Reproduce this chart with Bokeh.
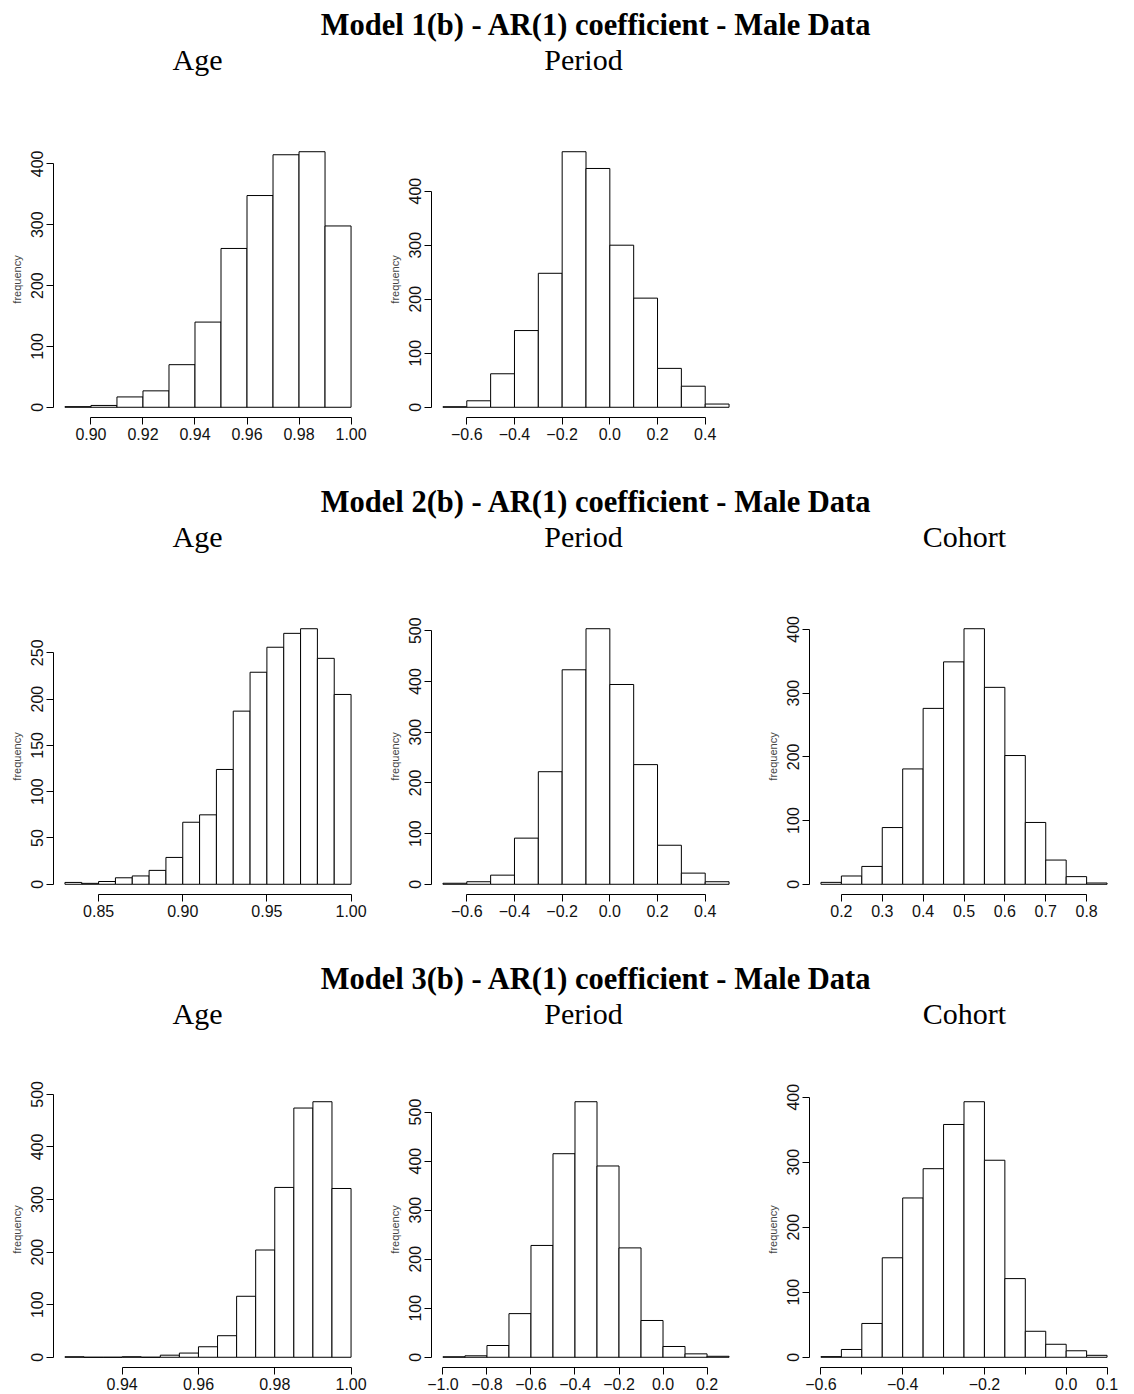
import numpy as np
from bokeh.plotting import figure
from bokeh.models import Range1d, FixedTicker, Label
from bokeh.layouts import column, row
from bokeh.embed import file_html
from bokeh.resources import INLINE

# ---------------- data ----------------
row_titles = ["Model 1(b) - AR(1) coefficient - Male Data",
              "Model 2(b) - AR(1) coefficient - Male Data",
              "Model 3(b) - AR(1) coefficient - Male Data"]
row_subtitles = [["Age", "Period"], ["Age", "Period", "Cohort"], ["Age", "Period", "Cohort"]]

# Model 1 - Age
m1_age_bin_start = 0.89
m1_age_bin_width = 0.01
m1_age_counts = [1, 3, 17, 27, 70, 140, 261, 348, 415, 420, 298]
m1_age_xticks = [0.90, 0.92, 0.94, 0.96, 0.98, 1.00]
m1_age_xlabels = ["0.90", "0.92", "0.94", "0.96", "0.98", "1.00"]
m1_age_yticks = [0, 100, 200, 300, 400]

# Model 1 - Period
m1_per_bin_start = -0.7
m1_per_bin_width = 0.1
m1_per_counts = [1, 12, 62, 142, 248, 473, 442, 300, 202, 72, 39, 6]
m1_per_xticks = [-0.6, -0.4, -0.2, 0.0, 0.2, 0.4]
m1_per_xlabels = ["\u22120.6", "\u22120.4", "\u22120.2", "0.0", "0.2", "0.4"]
m1_per_yticks = [0, 100, 200, 300, 400]

# Model 2 - Age
m2_age_bin_start = 0.83
m2_age_bin_width = 0.01
m2_age_counts = [2, 1, 3, 7, 9, 15, 29, 67, 75, 124, 187, 229, 256, 271, 276, 244, 205]
m2_age_xticks = [0.85, 0.90, 0.95, 1.00]
m2_age_xlabels = ["0.85", "0.90", "0.95", "1.00"]
m2_age_yticks = [0, 50, 100, 150, 200, 250]

# Model 2 - Period
m2_per_bin_start = -0.7
m2_per_bin_width = 0.1
m2_per_counts = [2, 5, 18, 91, 222, 423, 504, 394, 236, 77, 22, 5]
m2_per_xticks = [-0.6, -0.4, -0.2, 0.0, 0.2, 0.4]
m2_per_xlabels = ["\u22120.6", "\u22120.4", "\u22120.2", "0.0", "0.2", "0.4"]
m2_per_yticks = [0, 100, 200, 300, 400, 500]

# Model 2 - Cohort
m2_coh_bin_start = 0.15
m2_coh_bin_width = 0.05
m2_coh_counts = [3, 13, 28, 89, 181, 276, 349, 401, 309, 202, 97, 38, 12, 2]
m2_coh_xticks = [0.2, 0.3, 0.4, 0.5, 0.6, 0.7, 0.8]
m2_coh_xlabels = ["0.2", "0.3", "0.4", "0.5", "0.6", "0.7", "0.8"]
m2_coh_yticks = [0, 100, 200, 300, 400]

# Model 3 - Age
m3_age_bin_start = 0.925
m3_age_bin_width = 0.005
m3_age_counts = [1, 0, 0, 1, 0, 4, 8, 20, 41, 116, 204, 323, 474, 486, 321]
m3_age_xticks = [0.94, 0.96, 0.98, 1.00]
m3_age_xlabels = ["0.94", "0.96", "0.98", "1.00"]
m3_age_yticks = [0, 100, 200, 300, 400, 500]

# Model 3 - Period
m3_per_bin_start = -1.0
m3_per_bin_width = 0.1
m3_per_counts = [1, 3, 24, 89, 228, 415, 521, 390, 223, 75, 22, 7, 2]
m3_per_xticks = [-1.0, -0.8, -0.6, -0.4, -0.2, 0.0, 0.2]
m3_per_xlabels = ["\u22121.0", "\u22120.8", "\u22120.6", "\u22120.4", "\u22120.2", "0.0", "0.2"]
m3_per_yticks = [0, 100, 200, 300, 400, 500]

# Model 3 - Cohort
m3_coh_bin_start = -0.6
m3_coh_bin_width = 0.05
m3_coh_counts = [1, 12, 52, 153, 245, 290, 358, 393, 303, 121, 40, 20, 10, 3]
m3_coh_xticks = [-0.6, -0.5, -0.4, -0.3, -0.2, -0.1, 0.0, 0.1]
m3_coh_xlabels = ["\u22120.6", "", "\u22120.4", "", "\u22120.2", "", "0.0", "0.1"]
m3_coh_yticks = [0, 100, 200, 300, 400]

# ---------------- layout constants ----------------
PAGE_W = 1134
COL_W = 378
HEADER_H = 110
FRAME_W = 309
FRAME_H = 276
BORDER_L = 53
BORDER_R = COL_W - BORDER_L - FRAME_W
BORDER_T = 31
SERIF = "Liberation Serif"
SANS = "Liberation Sans"
SUB_X = [197, 583, 964]


def header(title, subs, height=HEADER_H):
    p = figure(width=PAGE_W, height=height, output_backend="svg", toolbar_location=None,
               x_range=Range1d(0, PAGE_W), y_range=Range1d(height, 0),
               min_border=0, outline_line_color=None)
    p.axis.visible = False
    p.grid.visible = False
    p.add_layout(Label(x=596, y=24, text=title, text_align="center",
                       text_baseline="alphabetic", text_font=SERIF,
                       text_font_size="30.5px", text_font_style="bold", text_color="black"))
    for i, s in enumerate(subs):
        p.add_layout(Label(x=SUB_X[i], y=59, text=s, text_align="center",
                           text_baseline="alphabetic", text_font=SERIF,
                           text_font_size="30px", text_color="black"))
    return p


def panel(bin_start, bin_width, counts, xticks, xlabels, yticks, height, bottom):
    n = len(counts)
    edges = np.round(bin_start + bin_width * np.arange(n + 1), 6)
    lo, hi = edges[0], edges[-1]
    ymax = max(counts)
    p = figure(width=COL_W, height=height, output_backend="svg", toolbar_location=None,
               x_range=Range1d(lo - 0.04 * (hi - lo), hi + 0.04 * (hi - lo)),
               y_range=Range1d(-0.04 * ymax, 1.04 * ymax),
               min_border_left=BORDER_L, min_border_right=BORDER_R,
               min_border_top=BORDER_T, min_border_bottom=bottom,
               outline_line_color=None, background_fill_color="white")
    p.grid.visible = False
    p.quad(left=edges[:-1], right=edges[1:], bottom=0, top=counts,
           fill_color="white", line_color="black", line_width=1)

    xa = p.xaxis[0]
    xa.ticker = FixedTicker(ticks=xticks)
    xa.major_label_overrides = {t: l for t, l in zip(xticks, xlabels)}
    xa.bounds = (xticks[0], xticks[-1])
    ya = p.yaxis[0]
    ya.ticker = FixedTicker(ticks=yticks)
    ya.bounds = (yticks[0], yticks[-1])
    ya.major_label_orientation = "vertical"
    ya.axis_label = "frequency"
    ya.axis_label_text_font = SANS
    ya.axis_label_text_font_size = "11px"
    ya.axis_label_text_font_style = "normal"
    ya.axis_label_text_color = "#444444"
    ya.axis_label_standoff = 6
    for ax in (xa, ya):
        ax.axis_line_color = "black"
        ax.axis_line_width = 1
        ax.major_tick_line_color = "black"
        ax.major_tick_out = 7
        ax.major_tick_in = 0
        ax.minor_tick_line_color = None
        ax.major_label_text_font = SANS
        ax.major_label_text_color = "#111111"
        ax.major_label_standoff = 3
    xa.major_label_text_font_size = "16px"
    ya.major_label_text_font_size = "16px"
    return p


ROW_H = 367
bot12 = ROW_H - BORDER_T - FRAME_H
H3 = 1394 - 2 * (HEADER_H + ROW_H) - 106
bot3 = H3 - BORDER_T - FRAME_H

r1 = row(
    panel(m1_age_bin_start, m1_age_bin_width, m1_age_counts, m1_age_xticks, m1_age_xlabels, m1_age_yticks, ROW_H, bot12),
    panel(m1_per_bin_start, m1_per_bin_width, m1_per_counts, m1_per_xticks, m1_per_xlabels, m1_per_yticks, ROW_H, bot12),
)
r2 = row(
    panel(m2_age_bin_start, m2_age_bin_width, m2_age_counts, m2_age_xticks, m2_age_xlabels, m2_age_yticks, ROW_H, bot12),
    panel(m2_per_bin_start, m2_per_bin_width, m2_per_counts, m2_per_xticks, m2_per_xlabels, m2_per_yticks, ROW_H, bot12),
    panel(m2_coh_bin_start, m2_coh_bin_width, m2_coh_counts, m2_coh_xticks, m2_coh_xlabels, m2_coh_yticks, ROW_H, bot12),
)
r3 = row(
    panel(m3_age_bin_start, m3_age_bin_width, m3_age_counts, m3_age_xticks, m3_age_xlabels, m3_age_yticks, H3, bot3),
    panel(m3_per_bin_start, m3_per_bin_width, m3_per_counts, m3_per_xticks, m3_per_xlabels, m3_per_yticks, H3, bot3),
    panel(m3_coh_bin_start, m3_coh_bin_width, m3_coh_counts, m3_coh_xticks, m3_coh_xlabels, m3_coh_yticks, H3, bot3),
)

layout = column(
    header(row_titles[0], row_subtitles[0]), r1,
    header(row_titles[1], row_subtitles[1]), r2,
    header(row_titles[2], row_subtitles[2], 106), r3,
    spacing=0,
)

open("out.html", "w").write(file_html(layout, INLINE))
